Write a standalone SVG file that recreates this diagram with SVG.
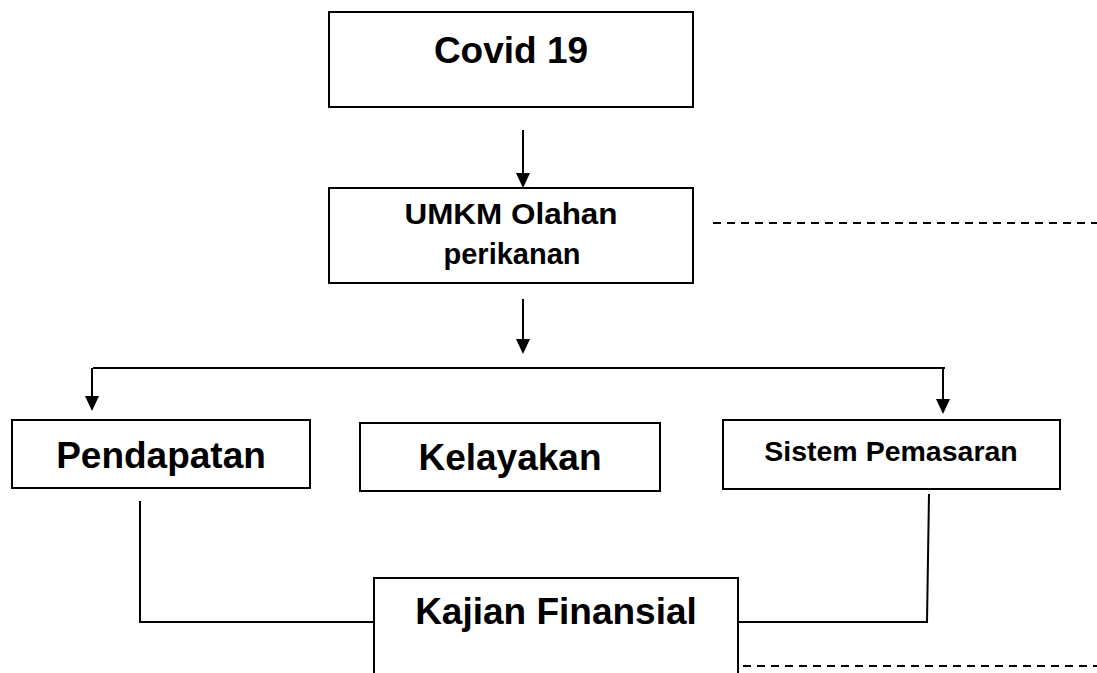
<svg xmlns="http://www.w3.org/2000/svg" width="1097" height="673" viewBox="0 0 1097 673">
<style>
.box{fill:#fff;stroke:#000;stroke-width:2}
.t{font-family:"Liberation Sans",Arial,sans-serif;font-weight:bold;fill:#000;text-anchor:middle}
.c{fill:none;stroke:#000;stroke-width:2}
.a{fill:none;stroke:#000;stroke-width:2;marker-end:url(#ah)}
.d{fill:none;stroke:#000;stroke-width:2;stroke-dasharray:8 6}
</style>
<defs>
<marker id="ah" viewBox="0 0 15 14" refX="11" refY="7" markerWidth="15" markerHeight="14" markerUnits="userSpaceOnUse" orient="auto">
<path d="M0,0 L15,7 L0,14 Z" fill="#000"/>
</marker>
</defs>
<rect width="1097" height="673" fill="#fff"/>
<g id="connectors">
<line class="a" x1="523" y1="130" x2="523" y2="184"/>
<line class="a" x1="523" y1="299" x2="523" y2="350"/>
<line class="c" x1="93" y1="368" x2="945" y2="368"/>
<line class="a" x1="92" y1="368" x2="92" y2="407"/>
<line class="a" x1="943" y1="368" x2="943" y2="410"/>
<polyline class="c" points="140,501 140,622 374,622"/>
<polyline class="c" points="929,494 927,622 739,622"/>
<line class="d" x1="713" y1="223" x2="1097" y2="223"/>
<line class="d" x1="743" y1="666" x2="1097" y2="666"/>
</g>
<g id="covid">
<rect class="box" x="329" y="12" width="364" height="95"/>
<text class="t" x="511" y="63" font-size="37">Covid 19</text>
</g>
<g id="umkm">
<rect class="box" x="329" y="188" width="364" height="95"/>
<text class="t" x="511" y="224" font-size="29" textLength="213" lengthAdjust="spacingAndGlyphs">UMKM Olahan</text>
<text class="t" x="512" y="264" font-size="29">perikanan</text>
</g>
<g id="pendapatan">
<rect class="box" x="12" y="420" width="298" height="68"/>
<text class="t" x="161" y="468" font-size="37">Pendapatan</text>
</g>
<g id="kelayakan">
<rect class="box" x="360" y="423" width="300" height="68"/>
<text class="t" x="510" y="470" font-size="37">Kelayakan</text>
</g>
<g id="sistem">
<rect class="box" x="723" y="420" width="337" height="69"/>
<text class="t" x="891" y="461" font-size="28.5">Sistem Pemasaran</text>
</g>
<g id="kajian">
<path class="c" d="M374,680 L374,578 L738,578 L738,680"/>
<text class="t" x="556" y="624" font-size="37">Kajian Finansial</text>
</g>
</svg>
